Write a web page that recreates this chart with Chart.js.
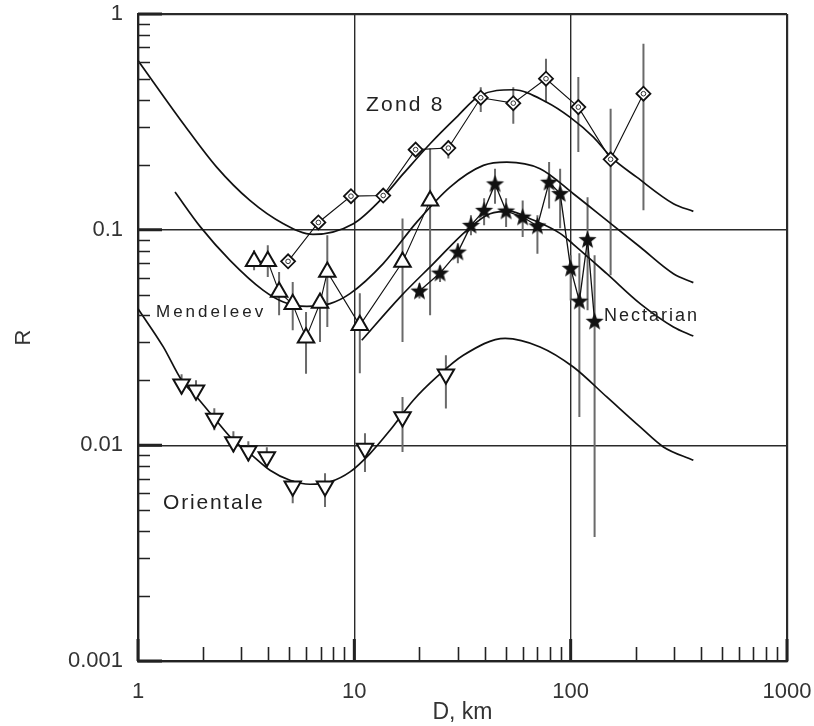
<!DOCTYPE html>
<html>
<head>
<meta charset="utf-8">
<title>R - D</title>
<script src="https://cdn.jsdelivr.net/npm/chart.js@4.4.1/dist/chart.umd.min.js"></script>
<style>
    html, body { margin: 0; padding: 0; background: #fff; }
    canvas { display: block; }
</style>
</head>
<body>
<canvas id="chart_r" width="814" height="726"></canvas>
<script>
// tick values
const xTicks = [1, 10, 100, 1000];
const yTicks = [0.001, 0.01, 0.1, 1];
const xMinor = [2, 3, 4, 5, 6, 7, 8, 9, 20, 30, 40, 50, 60, 70, 80, 90, 200, 300, 400, 500, 600, 700, 800, 900];
const yMinor = [0.002, 0.003, 0.004, 0.005, 0.006, 0.007, 0.008, 0.009,
    0.02, 0.03, 0.04, 0.05, 0.06, 0.07, 0.08, 0.09,
    0.2, 0.3, 0.4, 0.5, 0.6, 0.7, 0.8, 0.9];

// Zond 8 (diamonds)
const zondD = [4.94, 6.82, 9.65, 13.6, 19.2, 27.2, 38.4, 54.3, 76.9, 108.5, 153, 217];
const zondR = [0.0713, 0.108, 0.143, 0.144, 0.235, 0.239, 0.409, 0.386, 0.501, 0.37, 0.212, 0.427];
const zondLo = [null, null, null, null, null, 0.214, 0.351, 0.31, 0.39, 0.229, 0.0614, 0.123];
const zondHi = [null, null, null, null, null, 0.259, 0.458, 0.458, 0.62, 0.51, 0.364, 0.728];

// Mendeleev (triangles)
const mendD = [3.44, 3.98, 4.49, 5.19, 5.98, 6.94, 7.5, 10.6, 16.7, 22.4];
const mendR = [0.0713, 0.0713, 0.0514, 0.0451, 0.0315, 0.0457, 0.0636, 0.036, 0.0708, 0.136];
const mendLo = [0.0648, 0.0603, 0.0401, 0.0342, 0.0215, 0.0301, 0.0354, 0.0216, 0.0301, 0.0401];
const mendHi = [0.0802, 0.0846, 0.0636, 0.0572, 0.0415, 0.0507, 0.0941, 0.0507, 0.1128, 0.238];

// Nectarian (stars)
const nectD = [20.0, 24.9, 30.1, 34.6, 39.8, 44.7, 50.3, 60.0, 70.2, 79.5, 89.4, 100, 109.7, 119.7, 129];
const nectR = [0.0519, 0.0629, 0.0787, 0.1047, 0.1229, 0.163, 0.122, 0.1144, 0.104, 0.166, 0.147, 0.0662, 0.0466, 0.0899, 0.0376];
const nectLo = [0.048, 0.0572, 0.0698, 0.0941, 0.1047, 0.132, 0.1028, 0.0924, 0.0774, 0.1255, 0.1014, 0.047, 0.01354, 0.0423, 0.00376];
const nectHi = [0.0564, 0.0683, 0.0864, 0.1165, 0.1397, 0.1917, 0.1397, 0.1367, 0.1165, 0.2057, 0.1917, 0.076, 0.0777, 0.1412, 0.076];

// Orientale (inverted triangles)
const orD = [1.59, 1.854, 2.253, 2.76, 3.236, 3.94, 5.19, 7.32, 11.2, 16.7, 26.5];
const orR = [0.0192, 0.018, 0.0133, 0.01037, 0.00942, 0.00884, 0.00646, 0.00646, 0.00966, 0.01354, 0.02136];
const orLo = [0.01725, 0.01618, 0.01175, 0.00929, 0.00844, 0.00792, 0.00539, 0.00518, 0.00753, 0.00932, 0.01481];
const orHi = [0.02136, 0.02002, 0.01486, 0.01162, 0.01045, 0.0098, 0.00689, 0.00743, 0.01138, 0.01676, 0.02616];

// model curves
const fitZondD = [1, 1.62, 2.31, 3.29, 4.7, 6.44, 9.9, 13.15, 16.85, 22.4, 29.7, 38.1, 54.3, 77.5, 99.2, 127.4, 153.8, 202, 298.5, 369];
const fitZondR = [0.609, 0.31, 0.195, 0.1367, 0.1066, 0.0951, 0.1066, 0.1367, 0.1818, 0.2503, 0.3325, 0.419, 0.4454, 0.39, 0.3325, 0.2686, 0.217, 0.1752, 0.132, 0.1216];
const fitMendD = [1.483, 1.934, 2.663, 3.796, 4.7, 6.03, 7.72, 9.55, 13.6, 19.43, 27.7, 39.5, 50.7, 72.2, 102.9, 146.9, 209.4, 298.5, 369];
const fitMendR = [0.1494, 0.1036, 0.0721, 0.0523, 0.0462, 0.0441, 0.0454, 0.0505, 0.0696, 0.1084, 0.1576, 0.1986, 0.2057, 0.1917, 0.1468, 0.1104, 0.0831, 0.0625, 0.0568];
const fitNectD = [10.82, 16.27, 23.2, 33.1, 42.4, 52.5, 64.9, 89.3, 102.9, 146.9, 209.4, 298.5, 369];
const fitNectR = [0.0307, 0.0487, 0.0696, 0.0993, 0.1186, 0.1216, 0.1124, 0.0961, 0.0855, 0.0625, 0.0454, 0.0354, 0.0321];
const fitOrD = [1, 1.309, 1.592, 1.868, 2.229, 2.758, 3.294, 4.076, 5.043, 6.24, 7.72, 9.55, 11.82, 14.62, 18.74, 24.04, 31.9, 49.8, 72.2, 102.9, 146.9, 209.4, 268.3, 369];
const fitOrR = [0.043, 0.0286, 0.02002, 0.01676, 0.01354, 0.01056, 0.00916, 0.00767, 0.00689, 0.0066, 0.00677, 0.00753, 0.00916, 0.01175, 0.01618, 0.02075, 0.02616, 0.03134, 0.0286, 0.02308, 0.01676, 0.01217, 0.00983, 0.00853];

// text labels inside the plot
const noteText = ["Zond 8", "Mendeleev", "Nectarian", "Orientale"];
const noteD = [11.33, 1.211, 142.7, 1.305];
const noteR = [0.3767, 0.0414, 0.0396, 0.00539];
const noteFont = [21, 17, 18, 21];
const noteSpacing = [2.2, 3, 2, 1.8];

const FONT = "'Liberation Sans', Arial, sans-serif";

function pts(xs, ys) {
    return xs.map((x, i) => ({ x: x, y: ys[i] }));
}

function bars(xs, lo, hi) {
    const out = [];
    xs.forEach((x, i) => {
        if (lo[i] == null) return;
        out.push({ x: x, y: lo[i] }, { x: x, y: hi[i] }, { x: x, y: null });
    });
    return out;
}

function makeStar(outer, inner) {
    const c = document.createElement("canvas");
    const s = Math.ceil(outer * 2 + 2);
    c.width = s;
    c.height = s;
    const g = c.getContext("2d");
    g.translate(s / 2, s / 2 + 0.5);
    g.beginPath();
    for (let k = 0; k < 10; k++) {
        const r = k % 2 ? inner : outer;
        const a = -Math.PI / 2 + k * Math.PI / 5;
        g.lineTo(r * Math.cos(a), r * Math.sin(a));
    }
    g.closePath();
    g.fillStyle = "#111";
    g.fill();
    return c;
}
const star = makeStar(9.5, 4);

const errStyle = {
    borderColor: "#6a6a6a",
    borderWidth: 2,
    pointRadius: 0,
    spanGaps: false,
    order: 10,
};
const fitStyle = {
    borderColor: "#111",
    borderWidth: 1.7,
    pointRadius: 0,
    cubicInterpolationMode: "monotone",
    order: 5,
};
const linkStyle = {
    borderColor: "#111",
    borderWidth: 1.1,
    backgroundColor: "#fff",
    pointBorderColor: "#111",
    tension: 0,
    order: 1,
};

const data = {
    datasets: [
        { ...errStyle, label: "err zond", data: bars(zondD, zondLo, zondHi) },
        { ...errStyle, label: "err mend", data: bars(mendD, mendLo, mendHi) },
        { ...errStyle, label: "err nect", data: bars(nectD, nectLo, nectHi) },
        { ...errStyle, label: "err or", data: bars(orD, orLo, orHi) },

        { ...fitStyle, label: "fit zond", data: pts(fitZondD, fitZondR) },
        { ...fitStyle, label: "fit mend", data: pts(fitMendD, fitMendR) },
        { ...fitStyle, label: "fit nect", data: pts(fitNectD, fitNectR) },
        { ...fitStyle, label: "fit or", data: pts(fitOrD, fitOrR) },

        {
            ...linkStyle, label: "Zond 8", data: pts(zondD, zondR),
            pointStyle: "rectRot", pointRadius: 7, pointBorderWidth: 1.8,
        },
        {
            label: "Zond 8 dot", data: pts(zondD, zondR), showLine: false,
            pointStyle: "circle", pointRadius: 2.3, pointBorderWidth: 1,
            pointBorderColor: "#333", backgroundColor: "#fff", order: 0,
        },
        {
            ...linkStyle, label: "Mendeleev", data: pts(mendD, mendR),
            pointStyle: "triangle", pointRadius: 9.5, pointBorderWidth: 2,
        },
        {
            ...linkStyle, label: "Nectarian", data: pts(nectD, nectR),
            pointStyle: star, borderWidth: 1.3,
        },
        {
            ...linkStyle, label: "Orientale", data: pts(orD, orR), showLine: false,
            pointStyle: "triangle", pointRotation: 180, pointRadius: 9.5, pointBorderWidth: 2,
        },
    ],
};

// short inner ticks, decade stubs and the text notes
const innerTicks = {
    id: "innerTicks",
    afterDatasetsDraw(chart) {
        const { ctx, chartArea, scales } = chart;
        const xs = scales.x;
        const ys = scales.y;
        ctx.save();
        ctx.strokeStyle = "#222";
        ctx.lineWidth = 1.6;
        ctx.beginPath();
        yMinor.forEach((v) => {
            const y = Math.round(ys.getPixelForValue(v)) + 0.5;
            ctx.moveTo(chartArea.left, y);
            ctx.lineTo(chartArea.left + 12, y);
        });
        xMinor.forEach((v) => {
            const x = Math.round(xs.getPixelForValue(v)) + 0.5;
            ctx.moveTo(x, chartArea.bottom);
            ctx.lineTo(x, chartArea.bottom - 14);
        });
        ctx.stroke();

        ctx.lineWidth = 3;
        ctx.beginPath();
        yTicks.forEach((v) => {
            const y = ys.getPixelForValue(v);
            ctx.moveTo(chartArea.left, y);
            ctx.lineTo(chartArea.left + 24, y);
        });
        xTicks.forEach((v) => {
            const x = xs.getPixelForValue(v);
            ctx.moveTo(x, chartArea.bottom);
            ctx.lineTo(x, chartArea.bottom - 22);
        });
        ctx.stroke();

        ctx.fillStyle = "#222";
        ctx.textAlign = "left";
        ctx.textBaseline = "middle";
        noteText.forEach((t, i) => {
            ctx.font = noteFont[i] + "px " + FONT;
            ctx.letterSpacing = noteSpacing[i] + "px";
            ctx.fillText(t, xs.getPixelForValue(noteD[i]), ys.getPixelForValue(noteR[i]));
        });
        ctx.restore();
    },
};

const edgeWidth = (ctx, lo, hi) => {
    const v = ctx.tick && ctx.tick.value;
    return v === lo || v === hi ? 2.2 : 1.4;
};

const config = {
    type: "line",
    data: data,
    options: {
        responsive: false,
        animation: false,
        layout: { padding: { top: 14, right: 27, bottom: 0, left: 0 } },
        plugins: {
            legend: { display: false },
            tooltip: { enabled: false },
        },
        scales: {
            x: {
                type: "logarithmic",
                min: 1,
                max: 1000,
                afterBuildTicks: (scale) => {
                    scale.ticks = xTicks.map((v) => ({ value: v }));
                },
                afterFit: (scale) => {
                    scale.height = 65;
                    scale.paddingLeft = 0;
                    scale.paddingRight = 0;
                },
                ticks: {
                    autoSkip: false,
                    maxRotation: 0,
                    padding: 18,
                    color: "#333",
                    font: { family: FONT, size: 22 },
                    callback: (v) => String(v),
                },
                grid: {
                    color: "#2a2a2a",
                    lineWidth: (ctx) => edgeWidth(ctx, 1, 1000),
                    drawTicks: false,
                },
                border: { color: "#222", width: 2.2 },
                title: {
                    display: true,
                    text: "D, km",
                    color: "#333",
                    font: { family: FONT, size: 23 },
                    padding: { top: 0, bottom: 0 },
                },
            },
            y: {
                type: "logarithmic",
                min: 0.001,
                max: 1,
                afterBuildTicks: (scale) => {
                    scale.ticks = yTicks.map((v) => ({ value: v }));
                },
                afterFit: (scale) => {
                    scale.width = 138;
                    scale.paddingTop = 0;
                    scale.paddingBottom = 0;
                },
                ticks: {
                    autoSkip: false,
                    padding: 15,
                    color: "#333",
                    font: { family: FONT, size: 22 },
                    callback: (v) => String(v),
                },
                grid: {
                    color: "#2a2a2a",
                    lineWidth: (ctx) => edgeWidth(ctx, 0.001, 1),
                    drawTicks: false,
                },
                border: { color: "#222", width: 2.2 },
                title: {
                    display: true,
                    text: "R",
                    color: "#333",
                    font: { family: FONT, size: 22 },
                    padding: { top: 11, bottom: 0 },
                },
            },
        },
    },
    plugins: [innerTicks],
};

const ctxR = document.getElementById("chart_r");
const rChart = new Chart(ctxR, config);
</script>
</body>
</html>
